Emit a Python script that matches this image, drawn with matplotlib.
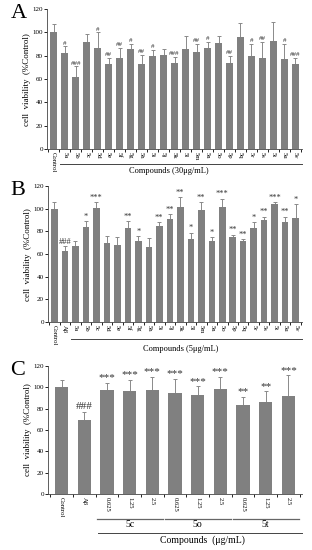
import matplotlib
matplotlib.use('Agg')
import matplotlib.pyplot as plt
import numpy as np

plt.rcParams['font.family'] = ['Liberation Serif', 'DejaVu Serif']

# panel A data (30 ug/mL)
labels_a = ['Control', '5a', '5b', '5c', '5d', '5e', '5f', '5g', '5h', '5i', '5j', '5k',
            '5l', '5m', '5n', '5o', '5p', '5q', '5r', '5s', '5t', '5u', '5v']
vals_a = [100, 82, 62, 92, 87, 73, 78, 86, 73, 80, 81, 74,
          86, 83, 87, 91, 74, 96, 80, 78, 93, 77, 73]
errs_a = [7, 6, 9, 7, 13, 5, 9, 4, 8, 5, 5, 5,
          11, 7, 5, 6, 6, 12, 10, 14, 16, 13, 5]
marks_a = ['', '#', '###', '', '#', '##', '##', '#', '##', '#', '', '###',
           '', '##', '#', '', '##', '', '#', '##', '', '#', '###']

# panel B data (5 ug/mL)
labels_b = ['Control', 'A\u03b2', '5a', '5b', '5c', '5d', '5e', '5f', '5g', '5h', '5i', '5j',
            '5k', '5l', '5m', '5n', '5o', '5p', '5q', '5r', '5s', '5t', '5u', '5v']
vals_b = [100, 63, 67, 84, 101, 70, 68, 83, 72, 66, 85, 91,
          102, 73, 99, 72, 102, 75, 72, 83, 90, 104, 88, 92]
errs_b = [6, 4, 5, 5, 5, 6, 7, 6, 4, 8, 3, 4,
          8, 6, 7, 3, 7, 2, 1, 5, 3, 2, 5, 12]
marks_b = ['', '###', '', '*', '***', '', '', '**', '*', '', '**', '**',
           '**', '*', '**', '*', '***', '**', '**', '*', '**', '***', '**', '*']

# panel C data (dose response)
labels_c = ['Control', 'A\u03b2', '0.625', '1.25', '2.5', '0.625', '1.25', '2.5',
            '0.625', '1.25', '2.5']
vals_c = [100, 69, 97, 96, 97, 95, 93, 98, 83, 86, 92]
errs_c = [7, 8, 7, 11, 13, 13, 8, 12, 8, 10, 19]
marks_c = ['', '###', '***', '***', '***', '***', '***', '***', '**', '**', '***']
groups_c = ['5c', '5o', '5t']

W, H = 312, 550
fig = plt.figure(figsize=(W / 100, H / 100), dpi=100)
bar_color = '#808080'


def panel(rect, labels, vals, errs, marks, width, letter, mark_size):
    ax = fig.add_axes(rect)
    x = np.arange(len(vals))
    ax.bar(x, vals, width=width, color=bar_color, zorder=2)
    ax.errorbar(x, vals, yerr=[np.zeros(len(errs)), errs], fmt='none',
                ecolor='#8a8a8a', elinewidth=0.7, capsize=1.6, capthick=0.7, zorder=1)
    for xi, v, e, m in zip(x, vals, errs, marks):
        if m:
            ax.text(xi, v + e + 0.5, m, ha='center', va='bottom',
                    fontsize=mark_size, color='#333333')
    ax.set_ylim(0, 120)
    ax.set_yticks(range(0, 121, 20))
    ax.set_xlim(-0.6, len(vals) - 0.4)
    for s in ['top', 'right']:
        ax.spines[s].set_visible(False)
    for s in ['left', 'bottom']:
        ax.spines[s].set_linewidth(0.6)
        ax.spines[s].set_color('#444444')
    ax.tick_params(axis='y', labelsize=5, length=2, width=0.6, pad=1)
    ax.set_xticks(x)
    ax.set_xticklabels(labels, rotation=270, fontsize=4.8)
    ax.tick_params(axis='x', length=0, pad=2)
    ax.set_xticks(np.arange(len(vals) + 1) - 0.5, minor=True)
    ax.tick_params(axis='x', which='minor', length=2, width=0.6)
    ax.set_ylabel('cell  viability  (%Control)', fontsize=6.5, labelpad=1)
    fig.text(0.033, rect[1] + rect[3] - 0.008, letter, fontsize=16, va='center')
    return ax


# Panel A
ax = panel([0.151, 0.729, 0.817, 0.2545], labels_a, vals_a, errs_a, marks_a,
           0.62, 'A', 5)
tr = ax.get_xaxis_transform()
ax.plot([0.6, len(vals_a) - 0.4], [-0.107, -0.107], transform=tr,
        color='#444444', lw=0.7, clip_on=False)
ax.text(10.5, -0.16, 'Compounds (30\u03bcg/mL)', transform=tr, ha='center',
        va='center', fontsize=6)

# Panel B
ax = panel([0.154, 0.4145, 0.814, 0.247], labels_b, vals_b, errs_b, marks_b,
           0.62, 'B', 6)
tr = ax.get_xaxis_transform()
ax.plot([1.6, len(vals_b) - 0.4], [-0.125, -0.125], transform=tr,
        color='#444444', lw=0.7, clip_on=False)
ax.text(12.0, -0.195, 'Compounds (5\u03bcg/mL)', transform=tr, ha='center',
        va='center', fontsize=6)

# Panel C
ax = panel([0.154, 0.1018, 0.814, 0.233], labels_c, vals_c, errs_c, marks_c,
           0.58, 'C', 8)
tr = ax.get_xaxis_transform()
for i, g in enumerate(groups_c):
    start = 2 + 3 * i
    ax.plot([start - 0.45, start + 2.45], [-0.195, -0.195], transform=tr,
            color='#666666', lw=0.9, clip_on=False)
    ax.text(start + 1, -0.235, g, transform=tr, ha='center', va='center',
            fontsize=7)
ax.plot([1.6, len(vals_c) - 0.4], [-0.305, -0.305], transform=tr,
        color='#444444', lw=0.7, clip_on=False)
ax.text(6.2, -0.36, 'Compounds  (\u03bcg/mL)', transform=tr, ha='center',
        va='center', fontsize=7)

fig.savefig('out.png', dpi=100)
